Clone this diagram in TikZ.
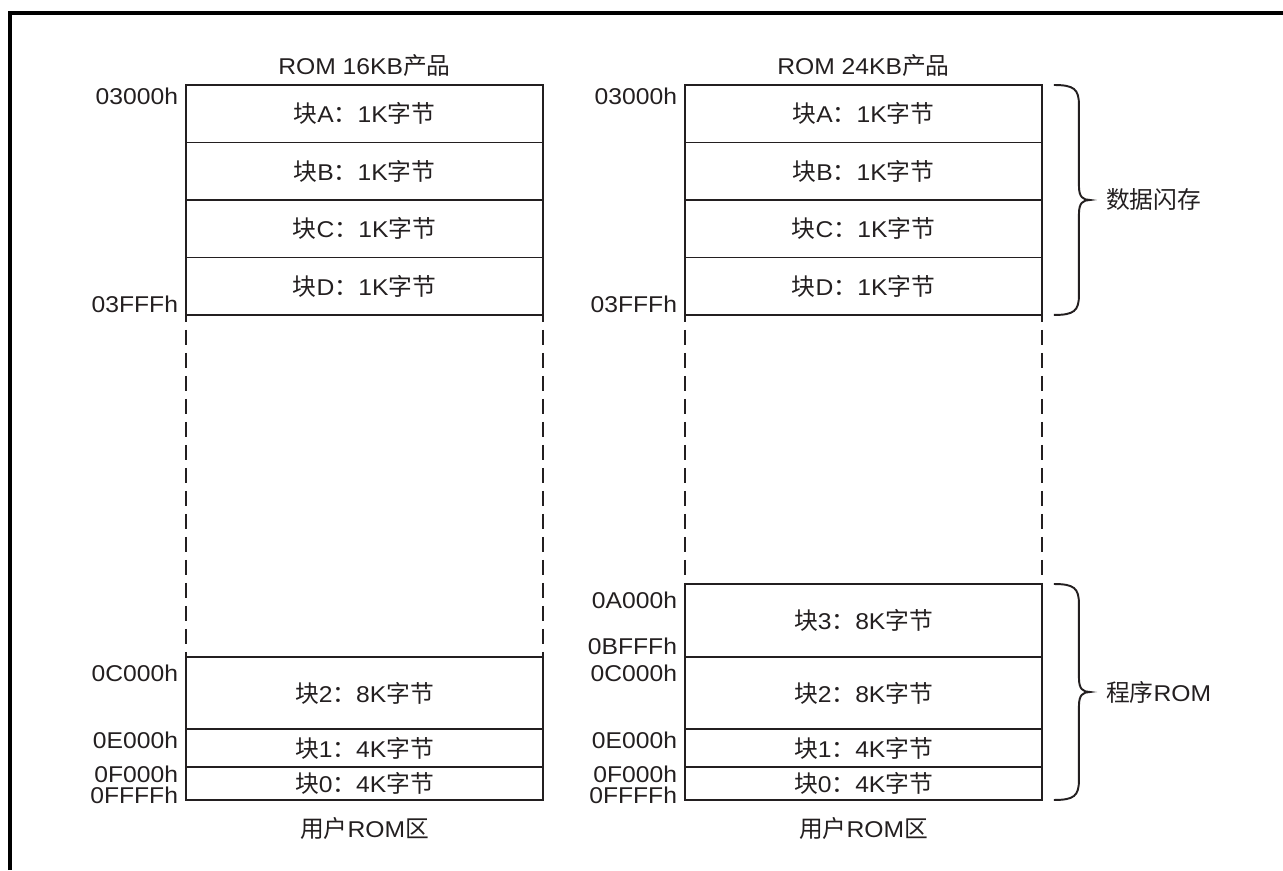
\documentclass[tikz,border=0pt]{standalone}
\usepackage{fontspec}
\setmainfont[FakeStretch=1.08]{Liberation Sans}
\newfontfamily\cjk[Scale=1.04]{Noto Sans CJK SC}
\usepackage{tikz}
\usetikzlibrary{positioning,calc}
\definecolor{inkDark}{RGB}{35, 31, 32}
\newcommand{\zh}[1]{{\cjk #1}}
\newcommand{\blk}[2]{\zh{块}#1\zh{：}#2\zh{字节}}
% curly brace from (#1) down to (#2), tip coordinate named #3
\newcommand{\rombrace}[3]{%
  \path ($(#1)!0.5!(#2)$) coordinate (#3);
  \draw[brc] (#1) .. controls ($(#1)+(20,0)$) and ($(#1)+(25,4)$) .. ($(#1)+(25,20)$)
    -- ($(#3)+(25,-14)$) .. controls ($(#3)+(25,-3)$) and ($(#3)+(29,0)$) .. ($(#3)+(36,0)$)
    .. controls ($(#3)+(29,0)$) and ($(#3)+(25,3)$) .. ($(#3)+(25,14)$)
    -- ($(#2)+(25,-20)$) .. controls ($(#2)+(25,-4)$) and ($(#2)+(20,0)$) .. (#2);}

\tikzset{
  romcell/.style={draw=inkDark, line width=1.1pt, minimum width=7.14cm, inner sep=0pt, outer sep=0pt},
  addr/.style={inner sep=0pt, outer sep=0pt},
  gapline/.style={draw=inkDark, line width=1.1pt, dash pattern=on 0.3cm off 0.16cm, dash phase=0.16cm},
  brc/.style={draw=inkDark, line width=1.1pt}
}

\begin{document}
\begin{tikzpicture}[x=0.02cm, y=-0.02cm, text=inkDark, font=\fontsize{13}{15}\selectfont]
\useasboundingbox (0,0) rectangle (1283,870);
% outer frame
\draw[line width=2pt, black] (10,870) -- (10,13) -- (1290,13);

% ROM 16KB
\node (la) [romcell, minimum height=1.15cm, anchor=north west] at (186,85) {\blk{A}{1K}};
\node (lb) [romcell, minimum height=1.15cm, below=0pt of la] {\blk{B}{1K}};
\node (lc) [romcell, minimum height=1.15cm, below=0pt of lb] {\blk{C}{1K}};
\node (ld) [romcell, minimum height=1.15cm, below=0pt of lc] {\blk{D}{1K}};
\node (l2) [romcell, minimum height=1.44cm, anchor=north west] at (186,657) {\blk{2}{8K}};
\node (l1) [romcell, minimum height=0.76cm, below=0pt of l2] {\blk{1}{4K}};
\node (l0) [romcell, minimum height=0.66cm, below=0pt of l1] {\blk{0}{4K}};
\node (ltitle) [above=0.04cm of la] {ROM 16KB\zh{产品}};
\node (luser) [below=0.22cm of l0] {\zh{用户}ROM\zh{区}};
\draw[gapline] (ld.south west) -- (l2.north west);
\draw[gapline] (ld.south east) -- (l2.north east);

\node[addr, anchor=north east] at ($(la.north west)+(-8,3)$) {03000h};
\node[addr, anchor=south east] at ($(ld.south west)+(-8,-2)$) {03FFFh};
\node[addr, anchor=north east] at ($(l2.north west)+(-8,8)$) {0C000h};
\node[addr, anchor=north east] at ($(l1.north west)+(-8,3)$) {0E000h};
\node[addr, anchor=north east] at ($(l0.north west)+(-8,-1)$) {0F000h};
\node[addr, anchor=south east] at ($(l0.south west)+(-8,4)$) {0FFFFh};

% ROM 24KB
\node (ra) [romcell, minimum height=1.15cm, anchor=north west] at (685,85) {\blk{A}{1K}};
\node (rb) [romcell, minimum height=1.15cm, below=0pt of ra] {\blk{B}{1K}};
\node (rc) [romcell, minimum height=1.15cm, below=0pt of rb] {\blk{C}{1K}};
\node (rd) [romcell, minimum height=1.15cm, below=0pt of rc] {\blk{D}{1K}};
\node (r3) [romcell, minimum height=1.46cm, anchor=north west] at (685,584) {\blk{3}{8K}};
\node (r2) [romcell, minimum height=1.44cm, below=0pt of r3] {\blk{2}{8K}};
\node (r1) [romcell, minimum height=0.76cm, below=0pt of r2] {\blk{1}{4K}};
\node (r0) [romcell, minimum height=0.66cm, below=0pt of r1] {\blk{0}{4K}};
\node (rtitle) [above=0.04cm of ra] {ROM 24KB\zh{产品}};
\node (ruser) [below=0.22cm of r0] {\zh{用户}ROM\zh{区}};
\draw[gapline] (rd.south west) -- (r3.north west);
\draw[gapline] (rd.south east) -- (r3.north east);

\node[addr, anchor=north east] at ($(ra.north west)+(-8,3)$) {03000h};
\node[addr, anchor=south east] at ($(rd.south west)+(-8,-2)$) {03FFFh};
\node[addr, anchor=north east] at ($(r3.north west)+(-8,8)$) {0A000h};
\node[addr, anchor=south east] at ($(r3.south west)+(-8,-2)$) {0BFFFh};
\node[addr, anchor=north east] at ($(r2.north west)+(-8,8)$) {0C000h};
\node[addr, anchor=north east] at ($(r1.north west)+(-8,3)$) {0E000h};
\node[addr, anchor=north east] at ($(r0.north west)+(-8,-1)$) {0F000h};
\node[addr, anchor=south east] at ($(r0.south west)+(-8,4)$) {0FFFFh};

% braces
\coordinate (flashtop) at ($(ra.north east)+(12,0)$);
\coordinate (flashbot) at ($(rd.south east)+(12,0)$);
\rombrace{flashtop}{flashbot}{flashtip}
\node (flash) [anchor=west] at ($(flashtip)+(46,0)$) {\zh{数据闪存}};
\coordinate (progtop) at ($(r3.north east)+(12,0)$);
\coordinate (progbot) at ($(r0.south east)+(12,0)$);
\rombrace{progtop}{progbot}{progtip}
\node (prog) [anchor=west] at ($(progtip)+(46,0)$) {\zh{程序}ROM};
\end{tikzpicture}
\end{document}
